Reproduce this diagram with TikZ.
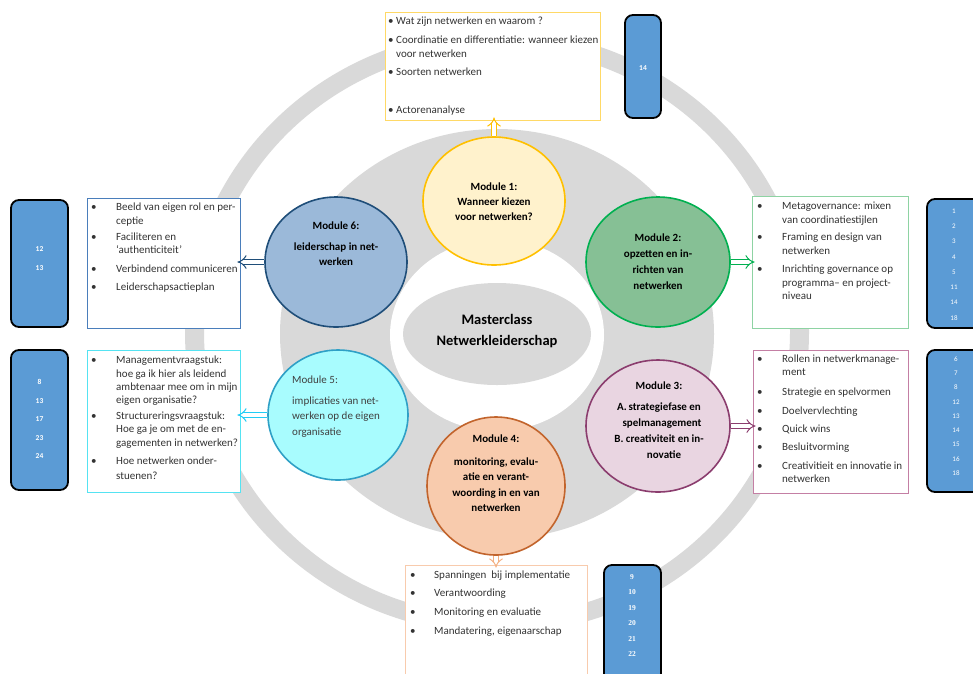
\documentclass[tikz,border=0pt]{standalone}
\usepackage{fontspec}
\setmainfont{Carlito}
\newfontfamily\serifnum{Liberation Serif}
\usetikzlibrary{shapes.geometric,arrows.meta}
\definecolor{bggray}{HTML}{D9D9D9}
\definecolor{m1fill}{HTML}{FFF2CC}\definecolor{m1draw}{HTML}{FFC000}
\definecolor{m2fill}{HTML}{86C095}\definecolor{m2draw}{HTML}{00B050}
\definecolor{m3fill}{HTML}{E9D5E1}\definecolor{m3draw}{HTML}{8B3D6E}
\definecolor{m4fill}{HTML}{F8CBAD}\definecolor{m4draw}{HTML}{C2642C}
\definecolor{m5fill}{HTML}{A8FCFE}\definecolor{m5draw}{HTML}{2FA0C6}
\definecolor{m6fill}{HTML}{9BB9D9}\definecolor{m6draw}{HTML}{1F4E79}
\definecolor{b1draw}{HTML}{FFD966}
\definecolor{b2draw}{HTML}{8ED3A3}
\definecolor{b3draw}{HTML}{C47FA4}
\definecolor{b4draw}{HTML}{F8CBAD}
\definecolor{b5draw}{HTML}{55E3F2}
\definecolor{b6draw}{HTML}{4A7EBB}
\definecolor{a4draw}{HTML}{F4B183}
\definecolor{a5draw}{HTML}{22CCF5}
\definecolor{nfill}{HTML}{5B9BD5}
\definecolor{txtgray}{HTML}{333333}
\definecolor{m5txt}{HTML}{404040}
\newcommand\bxfont{\fontsize{11}{13}\selectfont}
\newcommand\modfont{\fontsize{11}{13}\selectfont\bfseries}
\newcommand\bul[5]{\node[bline] (#1) at (#2,#3) {\makebox[#4pt][l]{\textbullet}#5};}
\newcommand\lin[4]{\node[bline] (#1) at (#2,#3) {#4};}
\newcommand\ctr[4]{\node[ctxt] (#1) at (#2,#3) {#4};}
\newcommand\mfl[4]{\node[m5line] (#1) at (#2,#3) {#4};}
\tikzset{
  modnode/.style={ellipse, line width=1.6pt, inner sep=0pt},
  tbox/.style={rectangle, fill=white, line width=0.8pt, inner sep=0pt},
  nbox/.style={rectangle, rounded corners=8pt, fill=nfill, draw=black, line width=1.8pt, inner sep=0pt},
  harrow/.style={double=white, double distance=3.8pt, line width=1pt, -{Implies[scale=1.5]}, shorten >=-3pt},
  bline/.style={anchor=mid west, inner sep=0pt, font=\bxfont, text=txtgray},
  m5line/.style={anchor=mid west, inner sep=0pt, font=\bxfont, text=m5txt},
  ctxt/.style={anchor=mid, inner sep=0pt, font=\modfont, text=black},
  numtxt/.style={text=white, align=center, inner sep=0pt}
}
\begin{document}
\begin{tikzpicture}[x=1pt,y=-1pt]
\path[use as bounding box] (0,0) rectangle (973,673);
\clip (0,0) rectangle (973,673);
\fill[white] (0,0) rectangle (973,673);
% background
\fill[bggray, even odd rule] (497,332) ellipse [x radius=312, y radius=302]
  (497,332) ellipse [x radius=293, y radius=284];
\fill[bggray] (497,334) ellipse [x radius=217, y radius=205];
\fill[white] (497,335) ellipse [x radius=107, y radius=96];
\node[ellipse, fill=bggray, minimum width=188, minimum height=102, inner sep=0pt] (mc) at (497,334) {};
\ctr{mca}{497}{322}{\fontsize{14.5}{16}\selectfont Masterclass}
\ctr{mcb}{497}{343}{\fontsize{14.5}{16}\selectfont Netwerkleiderschap}
% modules
\node[modnode, fill=m1fill, draw=m1draw, minimum width=142, minimum height=128] (m1) at (494,201) {};
\node[modnode, fill=m2fill, draw=m2draw, minimum width=144, minimum height=130] (m2) at (658,262) {};
\node[modnode, fill=m3fill, draw=m3draw, minimum width=144, minimum height=132] (m3) at (658,426) {};
\node[modnode, fill=m4fill, draw=m4draw, minimum width=138, minimum height=138] (m4) at (496,486) {};
\node[modnode, fill=m5fill, draw=m5draw, minimum width=140, minimum height=130] (m5) at (338,415) {};
\node[modnode, fill=m6fill, draw=m6draw, minimum width=142, minimum height=130] (m6) at (336,262) {};
% text boxes
\node[tbox, draw=b1draw, minimum width=215, minimum height=108] (bx1) at (492.5,66) {};
\node[tbox, draw=b6draw, minimum width=153, minimum height=130] (bx6) at (163.5,263) {};
\node[tbox, draw=b5draw, minimum width=153, minimum height=142] (bx5) at (163.5,421) {};
\node[tbox, draw=b2draw, minimum width=156, minimum height=132] (bx2) at (830,262) {};
\node[tbox, draw=b3draw, minimum width=155, minimum height=143] (bx3) at (830.5,421.5) {};
\node[tbox, draw=b4draw, minimum width=182, minimum height=125] (bx4) at (496,627.5) {};
% number boxes
\node[nbox, minimum width=36, minimum height=103] (nb1) at (643,66.5) {};
\node[nbox, minimum width=60, minimum height=129] (nb2) at (957,263.5) {};
\node[nbox, minimum width=60, minimum height=142] (nb3) at (957,421) {};
\node[nbox, minimum width=57, minimum height=125] (nb4) at (632.5,627.5) {};
\node[nbox, minimum width=57, minimum height=127] (nb5) at (39.5,263.5) {};
\node[nbox, minimum width=57, minimum height=140] (nb6) at (39.5,420) {};
\node[numtxt, font=\fontsize{7.5}{9}\selectfont\bfseries] (nb1t) at (643,68) {14};
\node[numtxt, font=\fontsize{7}{15.3}\selectfont] (nb2t) at (954,264.5) {1\\2\\3\\4\\5\\11\\14\\18};
\node[numtxt, font=\fontsize{7}{14.25}\selectfont] (nb3t) at (956,416) {6\\7\\8\\12\\13\\14\\15\\16\\18};
\node[numtxt, font=\serifnum\fontsize{7.5}{15.4}\selectfont\bfseries] (nb4t) at (632,615.5) {9\\10\\19\\20\\21\\22};
\node[numtxt, font=\fontsize{7.5}{19}\selectfont\bfseries] (nb5t) at (39.5,258.5) {12\\13};
\node[numtxt, font=\fontsize{7.5}{18.5}\selectfont\bfseries] (nb6t) at (39.5,419) {8\\13\\17\\23\\24};
% arrows
\draw[harrow, m1draw] (m1.north) -- (m1.north |- bx1.south);
\draw[harrow, m2draw] (m2.east) -- (m2.east -| bx2.west);
\draw[harrow, m3draw] (m3.east) -- (m3.east -| bx3.west);
\draw[harrow, a4draw] (m4.south) -- (m4.south |- bx4.north);
\draw[harrow, a5draw] (m5.west) -- (m5.west -| bx5.east);
\draw[harrow, m6draw] (m6.west) -- (m6.west -| bx6.east);
% module texts
\ctr{m1a}{494}{188}{Module 1:}
\ctr{m1b}{494}{203}{Wanneer kiezen}
\ctr{m1c}{494}{218}{voor netwerken?}
\ctr{m2a}{658}{239}{Module 2:}
\ctr{m2b}{658}{255}{opzetten en in-}
\ctr{m2c}{658}{271}{richten van}
\ctr{m2d}{658}{287}{netwerken}
\ctr{m3a}{659}{387}{Module 3:}
\ctr{m3b}{659}{408}{A.\,strategiefase en}
\ctr{m3c}{662}{424}{spelmanagement}
\ctr{m3d}{659}{440}{B. creativiteit en in-}
\ctr{m3e}{664}{456}{novatie}
\ctr{m4a}{496}{440}{Module 4:}
\ctr{m4b}{496}{463}{monitoring, evalu-}
\ctr{m4c}{496}{478}{atie en verant-}
\ctr{m4d}{496}{494}{woording in en van}
\ctr{m4e}{496}{509}{netwerken}
\mfl{m5a}{292}{381}{Module 5:}
\mfl{m5b}{292}{402}{implicaties van net-}
\mfl{m5c}{292}{417}{werken op de eigen}
\mfl{m5d}{292}{433}{organisatie}
\ctr{m6a}{336}{227}{Module 6:}
\ctr{m6b}{336}{248}{leiderschap in net-}
\ctr{m6c}{336}{263}{werken}
% top box
\bul{t1}{388}{22}{8}{Wat zijn netwerken en waarom ?}
\bul{t2}{388}{41}{8}{Coordinatie en differentiatie: wanneer kiezen}
\lin{t3}{396}{55}{voor netwerken}
\bul{t4}{388}{73}{8}{Soorten netwerken}
\bul{t5}{388}{111}{8}{Actorenanalyse}
% left box 1
\bul{l1}{91}{208}{25}{Beeld van eigen rol en per-}
\lin{l2}{116}{222}{ceptie}
\bul{l3}{91}{238}{25}{Faciliteren en}
\lin{l4}{116}{251}{`authenticiteit'}
\bul{l5}{91}{270}{25}{Verbindend communiceren}
\bul{l6}{91}{288}{25}{Leiderschapsactieplan}
% left box 2
\bul{k1}{91}{361}{25}{Managementvraagstuk:}
\lin{k2}{116}{375}{hoe ga ik hier als leidend}
\lin{k3}{116}{388}{ambtenaar mee om in mijn}
\lin{k4}{116}{401}{eigen organisatie?}
\bul{k5}{91}{417}{25}{Structureringsvraagstuk:}
\lin{k6}{116}{430}{Hoe ga je om met de en-}
\lin{k7}{116}{444}{gagementen in netwerken?}
\bul{k8}{91}{462}{25}{Hoe netwerken onder-}
\lin{k9}{116}{477}{stuenen?}
% right box 1
\bul{r1}{757}{207}{25}{Metagovernance: mixen}
\lin{r2}{782}{221}{van coordinatiestijlen}
\bul{r3}{757}{238}{25}{Framing en design van}
\lin{r4}{782}{252}{netwerken}
\bul{r5}{757}{270}{25}{Inrichting governance op}
\lin{r6}{782}{284}{programma– en project-}
\lin{r7}{782}{297}{niveau}
% right box 2
\bul{s1}{757}{360}{25}{Rollen in netwerkmanage-}
\lin{s2}{782}{373}{ment}
\bul{s3}{757}{393}{25}{Strategie en spelvormen}
\bul{s4}{757}{412}{25}{Doelvervlechting}
\bul{s5}{757}{430}{25}{Quick wins}
\bul{s6}{757}{448}{25}{Besluitvorming}
\bul{s7}{757}{467}{25}{Creativitieit en innovatie in}
\lin{s8}{782}{480}{netwerken}
% bottom box
\bul{u1}{410}{576}{24}{Spanningen\ \ bij implementatie}
\bul{u2}{410}{594}{24}{Verantwoording}
\bul{u3}{410}{613}{24}{Monitoring en evaluatie}
\bul{u4}{410}{632}{24}{Mandatering, eigenaarschap}
\end{tikzpicture}
\end{document}
